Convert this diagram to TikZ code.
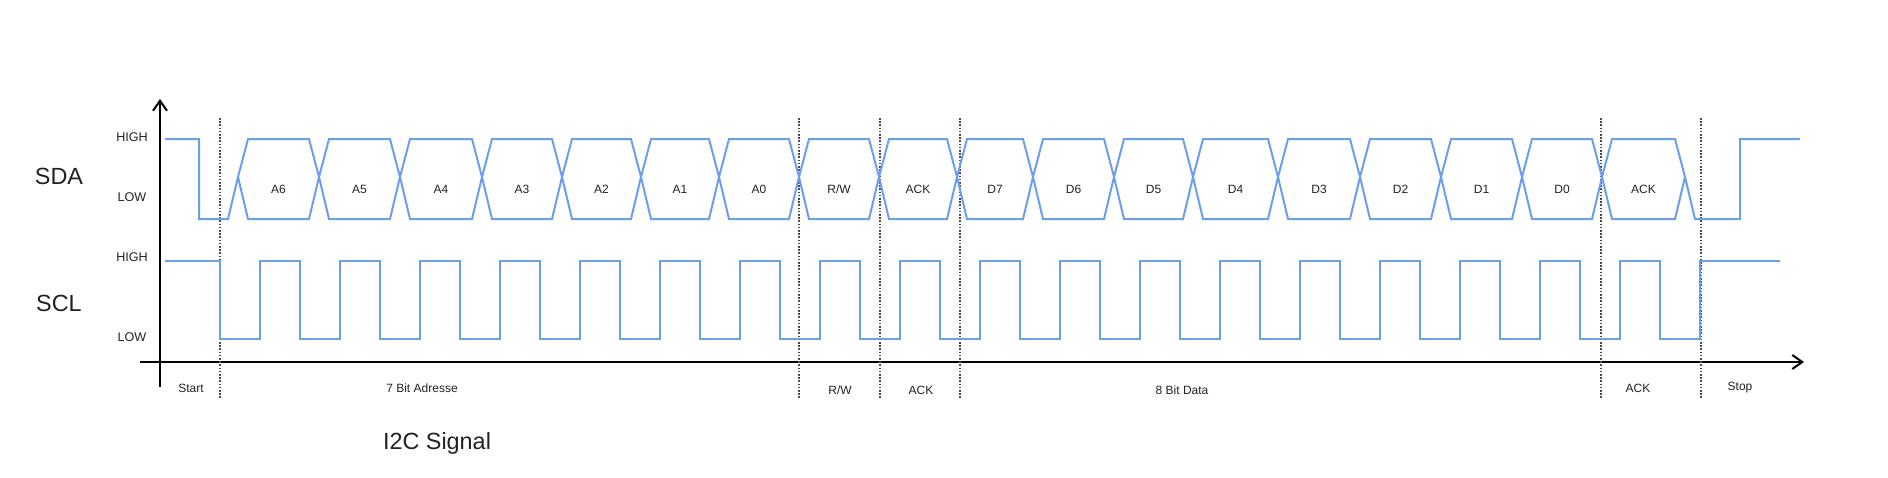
\documentclass[tikz,border=0pt]{standalone}
\usepackage{fontspec}
\setmainfont{Liberation Sans}
\usetikzlibrary{arrows.meta}
\definecolor{sigblue}{RGB}{109,158,235}
\definecolor{txt}{RGB}{34,34,34}
\tikzset{
  sig/.style={draw=sigblue, line width=1pt, line join=miter},
  axis/.style={draw=black, line width=1pt},
  marker/.style={draw=black!70, line width=0.8pt, dash pattern=on 0.8pt off 0.8pt},
  level/.style={text=txt, font=\fontsize{6.3}{8}\selectfont},
  bit/.style={text=txt, font=\fontsize{6}{8}\selectfont},
  phase/.style={text=txt, font=\fontsize{6}{8}\selectfont},
  signame/.style={text=txt, font=\fontsize{11.7}{14}\selectfont},
}
% one bit of the data line: #1 name, #2 left edge, #3 right edge, #4 label
\newcommand\buscell[4]{%
  \draw[sig] (#2,177) -- (#2+10,139) -- (#3-10,139) -- (#3,177) -- (#3-10,219) -- (#2+10,219) -- cycle;
  \node[bit] (#1) at ({(#2+#3)/2},189) {#4};
}

\begin{document}
\begin{tikzpicture}[x=0.5pt, y=-0.5pt]
        \useasboundingbox (0,0) rectangle (1888,477);

        % The axes
        \coordinate (yfoot) at (160,387);
        \coordinate (ytip) at (160,99);
        \coordinate (xfoot) at (140,362);
        \coordinate (xtip) at (1804,362);
        \draw[axis,-{Straight Barb[length=5pt,width=7pt]}] (yfoot) -- (ytip);
        \draw[axis,-{Straight Barb[length=5pt,width=7pt]}] (xfoot) -- (xtip);

        % Signal names and levels
        \node[signame] (sda) at (59,176) {SDA};
        \node[signame] (scl) at (59,303) {SCL};
        \node[level] (sdahigh) at (132,137) {HIGH};
        \node[level] (sdalow) at (132,197) {LOW};
        \node[level] (sclhigh) at (132,257) {HIGH};
        \node[level] (scllow) at (132,337) {LOW};

        % Phase separators
        \foreach \x in {220,799,880,960,1601,1701}
          \draw[marker] (\x,118) -- (\x,398);

        % SDA
        \draw[sig] (165,139) -- (199,139) -- (199,219) -- (228,219) -- (238,177);
        \buscell{a6}{238}{319}{A6}
        \buscell{a5}{319}{400}{A5}
        \buscell{a4}{400}{482}{A4}
        \buscell{a3}{482}{562}{A3}
        \buscell{a2}{562}{641}{A2}
        \buscell{a1}{641}{719}{A1}
        \buscell{a0}{719}{799}{A0}
        \buscell{rw}{799}{879}{R/W}
        \buscell{acka}{879}{957}{ACK}
        \buscell{d7}{957}{1033}{D7}
        \buscell{d6}{1033}{1114}{D6}
        \buscell{d5}{1114}{1193}{D5}
        \buscell{d4}{1193}{1278}{D4}
        \buscell{d3}{1278}{1360}{D3}
        \buscell{d2}{1360}{1441}{D2}
        \buscell{d1}{1441}{1522}{D1}
        \buscell{d0}{1522}{1602}{D0}
        \buscell{ackb}{1602}{1685}{ACK}
        \draw[sig] (1685,177) -- (1695,219) -- (1740,219) -- (1740,139) -- (1800,139);

        % SCL
        \draw[sig] (165,261) -- (220,261) -- (220,339)
          foreach \p in {260,340,...,1620} { -- (\p,339) -- (\p,261) -- (\p+40,261) -- (\p+40,339) }
          -- (1700,339) -- (1700,261) -- (1780,261);

        % Phases below the time axis
        \node[phase] (start) at (191,388) {Start};
        \node[phase] (addr) at (422,388) {7 Bit Adresse};
        \node[phase] (rwph) at (840,390) {R/W};
        \node[phase] (ackph) at (921,390) {ACK};
        \node[phase] (data) at (1182,390) {8 Bit Data};
        \node[phase] (ackph2) at (1638,388) {ACK};
        \node[phase] (stop) at (1740,388) {Stop};

        % Title
        \node[signame] (title) at (437,443) {I2C Signal};
\end{tikzpicture}
\end{document}
